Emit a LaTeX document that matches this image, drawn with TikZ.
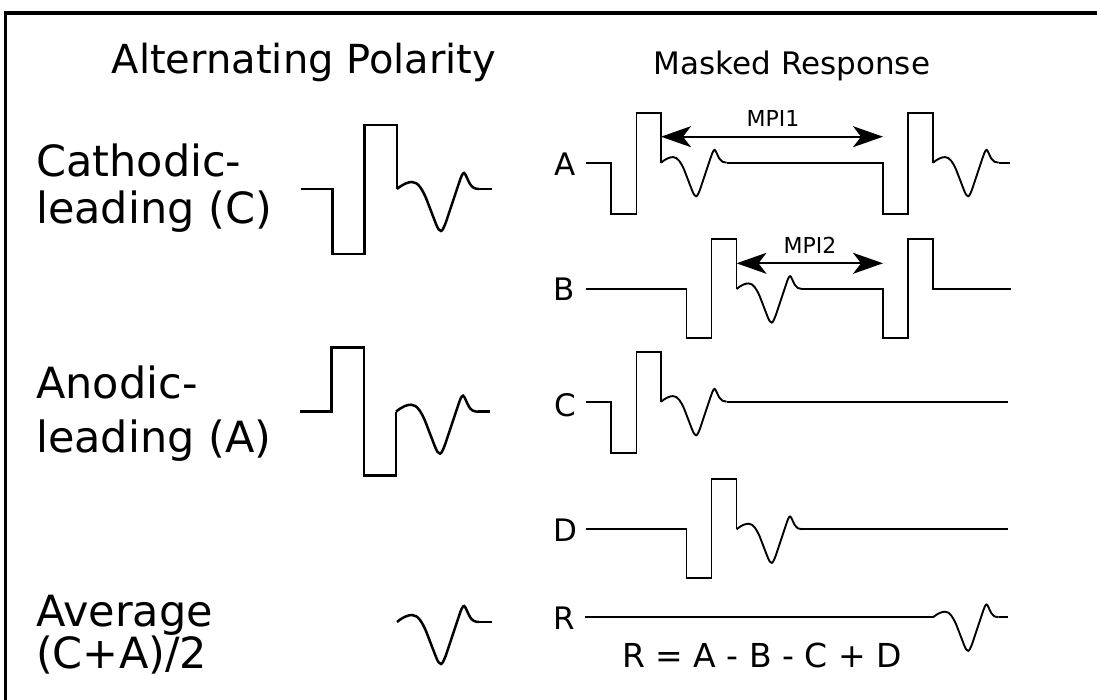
\documentclass[tikz,border=0pt]{standalone}
\usepackage{fontspec}
\setmainfont{DejaVu Sans}
\usetikzlibrary{arrows.meta}
\tikzset{
  sigl/.style={line width=2.5pt},
  sigr/.style={line width=1.9pt},
  big/.style={inner sep=0pt, anchor=base west, font=\fontsize{43}{50}\selectfont},
  title/.style={inner sep=0pt, anchor=base, font=\fontsize{40}{48}\selectfont},
  subtitle/.style={inner sep=0pt, anchor=base, font=\fontsize{31}{36}\selectfont},
  rowlbl/.style={inner sep=0pt, font=\fontsize{31}{36}\selectfont},
  mpi/.style={inner sep=0pt, font=\fontsize{22}{26}\selectfont},
  eq/.style={inner sep=0pt, anchor=base, font=\fontsize{33}{38}\selectfont},
  interval/.style={line width=1.9pt, {Stealth[length=30pt,width=21pt,inset=8pt]}-{Stealth[length=30pt,width=21pt,inset=8pt]}},
  wave/.pic={
    \draw (0,0) .. controls (6,-5) and (11,-7) .. (15,-7)
      .. controls (21,-7) and (25,0) .. (29,9)
      -- (39,35)
      .. controls (41,40) and (42.5,42) .. (44,42)
      .. controls (45.5,42) and (47,38) .. (49,33)
      -- (62,-6)
      .. controls (64,-12) and (65.5,-16) .. (67,-16)
      .. controls (68.5,-16) and (70.5,-9) .. (73,-5)
      .. controls (75,-1.5) and (78,0) .. (82,0);
  }
}
\begin{document}
\begin{tikzpicture}[x=1pt,y=-1pt]
\useasboundingbox (0,0) rectangle (1097,700);
% frame
\draw[line width=3.6pt] (4,13.3) -- (1097,13.3);
\draw[line width=3.4pt] (5.7,11.5) -- (5.7,700);

% titles
\node[title] (t1) at (304,74) {Alternating Polarity};
\node[subtitle] (t2) at (792,75) {Masked Response};

% left labels
\node[big] (l1) at (36,177) {Cathodic-};
\node[big] (l2) at (36,224) {leading (C)};
\node[big] (l3) at (36,398) {Anodic-};
\node[big] (l4) at (36,452) {leading (A)};
\node[big] (l5) at (36,626) {Average};
\node[big] (l6) at (36,668) {(C+A)/2};

% left waveforms
\draw[sigl] (301,189) -- (332.5,189) -- (332.5,254) -- (364.5,254) -- (364.5,125) -- (397,125) -- (397,189);
\pic[sigl] at (397,189) {wave};
\draw[sigl] (479,189) -- (492,189);

\draw[sigl] (300,411.7) -- (331.7,411.7) -- (331.7,347.7) -- (364,347.7) -- (364,475.7) -- (396,475.7) -- (396,411.7);
\pic[sigl] at (396,411.7) {wave};
\draw[sigl] (478,411.7) -- (490,411.7);

\pic[sigl] at (397,622) {wave};
\draw[sigl] (479,622) -- (492,622);

% row labels
\node[rowlbl] (ra) at (565,164) {A};
\node[rowlbl] (rb) at (564,289) {B};
\node[rowlbl] (rc) at (565,405) {C};
\node[rowlbl] (rd) at (565,530) {D};
\node[rowlbl] (rr) at (564,618) {R};

% row A
\draw[sigr] (586,162.7) -- (611,162.7) -- (611,214) -- (636.5,214) -- (636.5,113.3) -- (661,113.3) -- (661,162.7);
\pic[sigr,scale=0.8] at (661,162.7) {wave};
\draw[sigr] (726.6,162.7) -- (883,162.7) -- (883,214) -- (908,214) -- (908,113.3) -- (933,113.3) -- (933,162.7);
\pic[sigr,scale=0.8] at (933,162.7) {wave};
\draw[sigr] (998.6,162.7) -- (1010,162.7);
\coordinate (a1) at (661,136.7);
\coordinate (a2) at (883,136.7);
\draw[interval] (a1) -- (a2);
\node[mpi] (m1) at (773,118) {MPI1};

% row B
\draw[sigr] (586,289) -- (686.5,289) -- (686.5,338.3) -- (711.5,338.3) -- (711.5,239) -- (736.5,239) -- (736.5,289);
\pic[sigr,scale=0.8] at (736.5,289) {wave};
\draw[sigr] (802.1,289) -- (883,289) -- (883,338.3) -- (908,338.3) -- (908,239) -- (933,239) -- (933,289) -- (1011,289);
\coordinate (b1) at (736.5,263.3);
\coordinate (b2) at (883,263.3);
\draw[interval] (b1) -- (b2);
\node[mpi] (m2) at (810,245) {MPI2};

% row C
\draw[sigr] (586,401.7) -- (611,401.7) -- (611,453.3) -- (636.5,453.3) -- (636.5,352.3) -- (661,352.3) -- (661,401.7);
\pic[sigr,scale=0.8] at (661,401.7) {wave};
\draw[sigr] (726.6,401.7) -- (1008,401.7);

% row D
\draw[sigr] (586,529.3) -- (686.5,529.3) -- (686.5,578.3) -- (711.5,578.3) -- (711.5,479) -- (736.5,479) -- (736.5,529.3);
\pic[sigr,scale=0.8] at (736.5,529.3) {wave};
\draw[sigr] (802.1,529.3) -- (1008,529.3);

% row R
\draw[sigr] (585,617.3) -- (933,617.3);
\pic[sigr,scale=0.8] at (933,617.3) {wave};
\draw[sigr] (998.6,617.3) -- (1008,617.3);
\node[eq] (req) at (762,667) {R = A - B - C + D};
\end{tikzpicture}
\end{document}
